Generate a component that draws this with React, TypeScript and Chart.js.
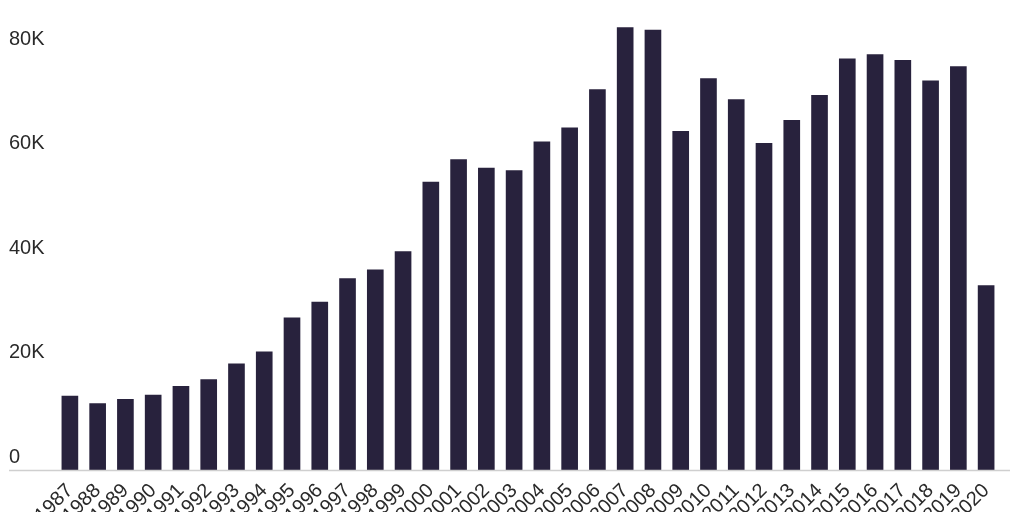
import React, { useEffect, useRef } from "react";
import { Chart, registerables } from "chart.js";

Chart.register(...registerables);

const years: string[] = [
  "1987", "1988", "1989", "1990", "1991", "1992", "1993", "1994", "1995", "1996",
  "1997", "1998", "1999", "2000", "2001", "2002", "2003", "2004", "2005", "2006",
  "2007", "2008", "2009", "2010", "2011", "2012", "2013", "2014", "2015", "2016",
  "2017", "2018", "2019", "2020",
];

const values: number[] = [
  14200, 12800, 13600, 14400, 16100, 17400, 20400, 22700, 29200, 32200,
  36700, 38400, 41900, 55200, 59500, 57900, 57400, 62900, 65600, 72900,
  84800, 84300, 64900, 75000, 71000, 62600, 67000, 71800, 78800, 79600,
  78500, 74600, 77300, 35400,
];

const yTicks: number[] = [0, 20000, 40000, 60000, 80000];
const yTickLabels: string[] = ["0", "20K", "40K", "60K", "80K"];

const BAR_COLOR = "#28223d";
const TEXT_COLOR = "#2a2a2a";
const FONT = { family: "'Liberation Sans', Arial, sans-serif", size: 20 };

const baselinePlugin = {
  id: "baseline",
  afterDatasetsDraw(chart: any) {
    const { ctx, chartArea } = chart;
    ctx.save();
    ctx.strokeStyle = "#cfcfcf";
    ctx.lineWidth = 1.5;
    ctx.beginPath();
    ctx.moveTo(9, chartArea.bottom + 0.5);
    ctx.lineTo(1010, chartArea.bottom + 0.5);
    ctx.stroke();
    ctx.restore();
  },
};

export default function App() {
  const ref = useRef<HTMLCanvasElement | null>(null);

  useEffect(() => {
    if (!ref.current) return;
    const chart = new Chart(ref.current, {
      type: "bar",
      data: {
        labels: years,
        datasets: [
          {
            data: values,
            backgroundColor: BAR_COLOR,
            borderWidth: 0,
            barPercentage: 0.6,
            categoryPercentage: 1,
          },
        ],
      },
      plugins: [baselinePlugin],
      options: {
        responsive: false,
        animation: false,
        layout: { padding: { left: 9, right: 24, top: 0, bottom: 0 } },
        plugins: { legend: { display: false }, tooltip: { enabled: false } },
        scales: {
          x: {
            grid: { display: false, drawTicks: false },
            border: { display: false },
            ticks: {
              autoSkip: false,
              maxRotation: 45,
              minRotation: 45,
              padding: 9,
              color: TEXT_COLOR,
              font: FONT,
            },
            afterFit: (scale: any) => {
              scale.height = 42;
              scale.paddingLeft = 0;
              scale.paddingRight = 0;
            },
          },
          y: {
            min: 0,
            max: 90000,
            grid: { display: false, drawTicks: false },
            border: { display: false },
            afterBuildTicks: (scale: any) => {
              scale.ticks = yTicks.map((v) => ({ value: v }));
            },
            ticks: {
              crossAlign: "far",
              labelOffset: -13,
              padding: 0,
              color: TEXT_COLOR,
              font: FONT,
              callback: (v: any) => {
                const i = yTicks.indexOf(Number(v));
                return i >= 0 ? yTickLabels[i] : "";
              },
            },
            afterFit: (scale: any) => {
              scale.width = 47;
              scale.paddingTop = 0;
              scale.paddingBottom = 0;
            },
          },
        },
      },
    });
    return () => chart.destroy();
  }, []);

  return (
    <div style={{ position: "fixed", left: 0, top: 0, width: 1024, height: 512, background: "#fff" }}>
      <canvas ref={ref} width={1024} height={512} style={{ width: 1024, height: 512, display: "block" }} />
    </div>
  );
}
